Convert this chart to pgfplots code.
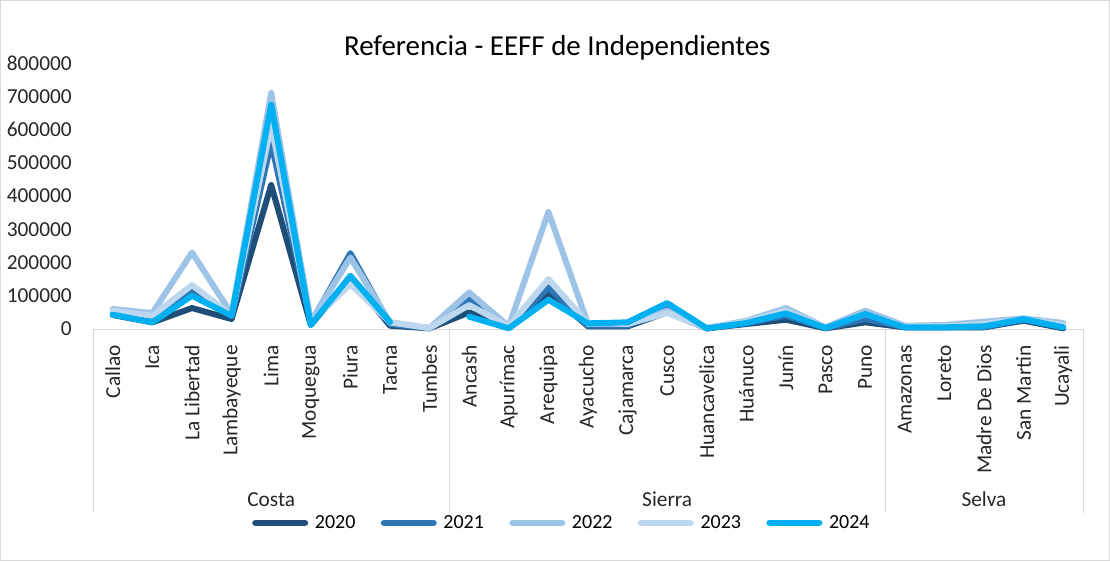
\documentclass[border=0pt]{standalone}
\usepackage{pgfplots}
\pgfplotsset{compat=1.18}
\usepackage{pgfplotstable}
\usepackage{fontspec}
\setmainfont{Carlito}
\definecolor{c20}{HTML}{1F4E79}
\definecolor{c21}{HTML}{2E75B6}
\definecolor{c22}{HTML}{9DC3E6}
\definecolor{c23}{HTML}{BDD7EE}
\definecolor{c24}{HTML}{00B0F0}
\definecolor{gl}{HTML}{D9D9D9}
\pgfplotstableread{
x y20 y21 y22 y23 y24
0 42000 48000 60000 55000 43000
1 20000 35000 48000 40000 20000
2 63000 117000 230000 132000 100000
3 30000 38000 45000 42000 40000
4 433000 560000 710000 612000 675000
5 12000 18000 22000 20000 12000
6 155000 228000 215000 135000 160000
7 10000 15000 20000 20000 21000
8 2000 2000 3000 3000 nan
9 50000 88000 110000 72000 37000
10 3000 5000 8000 8000 2000
11 110000 125000 352000 150000 88000
12 8000 10000 15000 18000 17000
13 8000 10000 18000 15000 20000
14 50000 60000 55000 48000 78000
15 2000 2000 3000 3000 2000
16 15000 18000 25000 22000 18000
17 28000 40000 63000 55000 47000
18 2000 3000 5000 4000 3000
19 20000 30000 55000 45000 45000
20 5000 6000 10000 8000 5000
21 5000 6000 12000 8000 5000
22 5000 6000 22000 15000 8000
23 25000 28000 32000 30000 30000
24 2000 5000 18000 12000 5000
}\datatable
\begin{document}
\begin{tikzpicture}
\useasboundingbox (0pt,0pt) rectangle (832.5pt,420.75pt);
\draw[gl] (0.5pt,0.5pt) rectangle (832pt,420.25pt);
\node at (418pt,384.75pt) {\fontsize{21.7}{26}\selectfont Referencia - EEFF de Independientes};
\begin{axis}[
  at={(69.75pt,174pt)}, anchor=south west,
  scale only axis, width=742.5pt, height=199.5pt,
  xmin=-0.5, xmax=24.5, ymin=0, ymax=800000,
  clip=false,
  axis x line*=bottom, axis y line*=left,
  x axis line style={gl, line width=0.75pt, -},
  y axis line style={draw=none},
  xtick={0,...,24},
  xticklabels={Callao,Ica,La Libertad,Lambayeque,Lima,Moquegua,Piura,Tacna,Tumbes,Ancash,Apurímac,Arequipa,Ayacucho,Cajamarca,Cusco,Huancavelica,Huánuco,Junín,Pasco,Puno,Amazonas,Loreto,Madre De Dios,San Martin,Ucayali},
  xticklabel style={rotate=90, anchor=east, inner sep=0pt, font=\fontsize{16}{19}\selectfont, text=black!85},
  xticklabel shift=12pt,
  ytick={0,100000,...,800000},
  yticklabel style={anchor=east, inner sep=0pt, font=\fontsize{16}{19}\selectfont, text=black!85},
  yticklabel shift=15.75pt,
  scaled y ticks=false,
  /pgf/number format/.cd, fixed, 1000 sep={}, assume math mode=true,
  /pgfplots/.cd,
  major tick length=0pt,
  unbounded coords=jump,
  every axis plot/.append style={line width=4.5pt, line join=round, line cap=round, mark=none},
  legend style={at={(0.474,-0.729)}, anchor=center, draw=none, fill=none,
    legend columns=5, font=\fontsize{15}{18}\selectfont, inner sep=0pt,
    /tikz/every even column/.append style={column sep=17pt},
    /tikz/every odd column/.append style={column sep=3pt}},
  legend cell align=left,
  legend image code/.code={\draw[#1, line width=5pt, line cap=round] (0pt,0pt) -- (37pt,0pt);},
]
\addplot[c20] table[x=x,y=y20] {\datatable};
\addplot[c21] table[x=x,y=y21] {\datatable};
\addplot[c22] table[x=x,y=y22] {\datatable};
\addplot[c23] table[x=x,y=y23] {\datatable};
\addplot[c24] table[x=x,y=y24] {\datatable};
\legend{2020,2021,2022,2023,2024}
\foreach \v in {-0.5,8.5,19.5,24.5}{
  \edef\tmp{\noexpand\draw[gl, line width=0.75pt] (axis cs:\v,0) -- ++(0pt,-138pt);}\tmp
}
\node[font=\fontsize{16}{19}\selectfont, text=black!85] at ([yshift=-128pt]axis cs:4,0) {Costa};
\node[font=\fontsize{16}{19}\selectfont, text=black!85] at ([yshift=-128pt]axis cs:14,0) {Sierra};
\node[font=\fontsize{16}{19}\selectfont, text=black!85] at ([yshift=-128pt]axis cs:22,0) {Selva};
\end{axis}
\end{tikzpicture}
\end{document}
